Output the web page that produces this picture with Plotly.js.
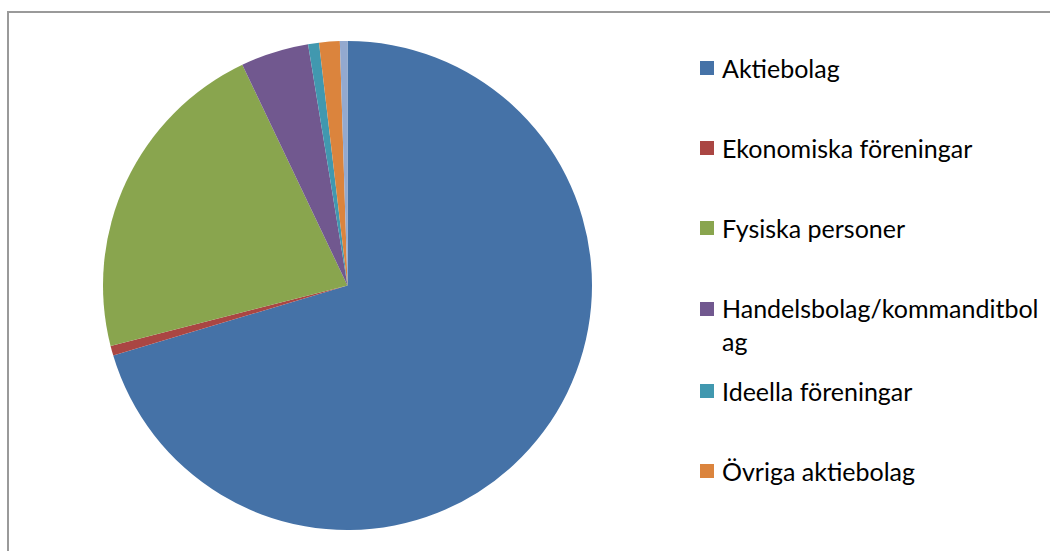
<!DOCTYPE html>
<html>
<head>
<meta charset="utf-8">
<script src="https://cdn.plot.ly/plotly-3.0.1.min.js"></script>
<style>html,body{margin:0;padding:0;background:#fff;}#chart{width:1050px;height:551px;}</style>
</head>
<body>
<div id="chart"></div>
<script>
// Data (share, in percent)
const categories = ["Aktiebolag", "Ekonomiska föreningar", "Fysiska personer", "Handelsbolag/kommanditbolag", "Ideella föreningar", "Övriga aktiebolag", "Övrigt"];
const legendLabels = ["Aktiebolag", "Ekonomiska föreningar", "Fysiska personer", "Handelsbolag/kommanditbol<br>ag", "Ideella föreningar", "Övriga aktiebolag"];
const values = [70.4, 0.65, 21.9, 4.5, 0.72, 1.36, 0.5];
const colors = ["#4572A7", "#AA4643", "#89A54E", "#71588F", "#4198AF", "#DB843D", "#93A9CF"];

const W = 1050, H = 551;
const px = x => x / W;
const py = y => 1 - y / H;

const trace = {
  type: "pie",
  labels: categories,
  values: values,
  sort: false,
  direction: "clockwise",
  rotation: 0,
  textinfo: "none",
  hoverinfo: "label+percent",
  marker: {colors: colors, line: {width: 0}},
  domain: {x: [px(103), px(592)], y: [py(530), py(41)]},
  showlegend: false
};

// legend item vertical centres (px) for the square markers
const legendY = [68, 148, 228, 309, 391, 471];
const shapes = [{
  type: "rect", xref: "paper", yref: "paper",
  x0: px(8), x1: px(1060), y0: py(560), y1: py(12),
  line: {color: "#9a9a9a", width: 2}, fillcolor: "rgba(0,0,0,0)"
}];
const annotations = [];
legendLabels.forEach((lab, i) => {
  const cy = legendY[i];
  shapes.push({
    type: "rect", xref: "paper", yref: "paper",
    x0: px(700), x1: px(714), y0: py(cy + 7), y1: py(cy - 7),
    line: {width: 0}, fillcolor: colors[i]
  });
  const twoLine = lab.indexOf("<br>") >= 0;
  annotations.push({
    xref: "paper", yref: "paper",
    x: px(720), y: twoLine ? py(cy - 18) : py(cy),
    xanchor: "left", yanchor: twoLine ? "top" : "middle",
    align: "left", showarrow: false,
    text: lab,
    font: {family: "Lato, 'Liberation Sans', sans-serif", size: 25, color: "#000"}
  });
});

const layout = {
  width: W, height: H,
  margin: {l: 0, r: 0, t: 0, b: 0},
  paper_bgcolor: "#fff",
  showlegend: false,
  shapes: shapes,
  annotations: annotations
};

Plotly.newPlot("chart", [trace], layout, {displayModeBar: false, staticPlot: true});
</script>
</body>
</html>
